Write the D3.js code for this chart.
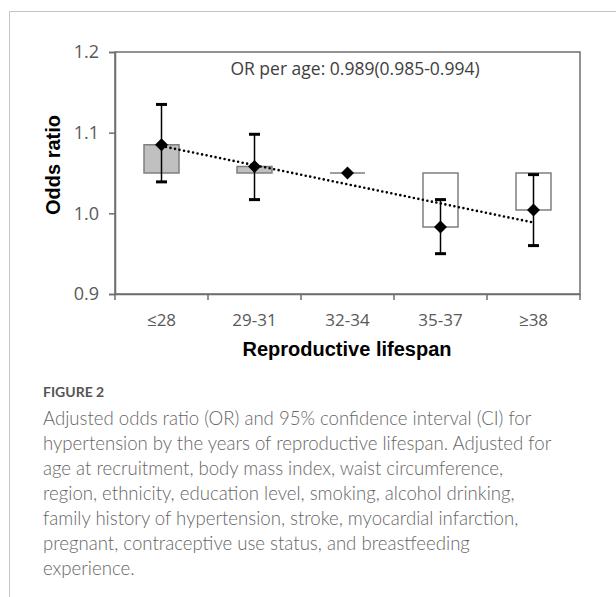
<!DOCTYPE html>
<html>
<head>
<meta charset="utf-8">
<script src="https://cdn.jsdelivr.net/npm/d3@7"></script>
<style>
  html, body { margin: 0; padding: 0; background: #fff; }
  svg { display: block; }
</style>
</head>
<body>
<div id="chart"></div>
<script>
// data
const categories = ["≤28", "29-31", "32-34", "35-37", "≥38"];
const oddsRatio = [1.085, 1.058, 1.05, 0.983, 1.004];
const ciLower = [1.039, 1.017, 1.05, 0.95, 0.96];
const ciUpper = [1.135, 1.098, 1.05, 1.017, 1.048];
const barBase = 1.05; // columns drawn from this crossing value
const yTicks = [0.9, 1.0, 1.1, 1.2];
const annotation = "OR per age: 0.989(0.985-0.994)";
const captionHead = "FIGURE 2";
const captionLines = [
  "Adjusted odds ratio (OR) and 95% confidence interval (CI) for",
  "hypertension by the years of reproductive lifespan. Adjusted for",
  "age at recruitment, body mass index, waist circumference,",
  "region, ethnicity, education level, smoking, alcohol drinking,",
  "family history of hypertension, stroke, myocardial infarction,",
  "pregnant, contraceptive use status, and breastfeeding",
  "experience."
];

const W = 616, H = 597;
const plot = { left: 115, right: 580, top: 52, bottom: 294 };
const tickFont = "'Open Sans', 'DejaVu Sans', sans-serif";

const svg = d3.select("#chart").append("svg")
  .attr("width", W).attr("height", H)
  .attr("viewBox", [0, 0, W, H]);

// figure frame (top + left rule)
svg.append("path")
  .attr("d", `M${W},11.5H9.5V${H}`)
  .attr("fill", "none")
  .attr("stroke", "#c4c4c4")
  .attr("stroke-width", 1);

const x = d3.scaleBand().domain(categories).range([plot.left, plot.right]);
const y = d3.scaleLinear().domain([0.9, 1.2]).range([plot.bottom, plot.top]);
const cx = d => x(d) + x.bandwidth() / 2;

// plot border
svg.append("rect")
  .attr("x", plot.left).attr("y", plot.top)
  .attr("width", plot.right - plot.left).attr("height", plot.bottom - plot.top)
  .attr("fill", "none")
  .attr("stroke", "#6e6e6e")
  .attr("stroke-width", 1.5);

// y axis
const yAxis = svg.append("g")
  .attr("transform", `translate(${plot.left},0)`)
  .call(d3.axisLeft(y).tickValues(yTicks).tickFormat(d3.format(".1f")).tickSize(6).tickPadding(10));
yAxis.select(".domain").attr("stroke", "#6e6e6e").attr("stroke-width", 1.5);
yAxis.selectAll(".tick line").attr("stroke", "#6e6e6e").attr("stroke-width", 1.5);
yAxis.selectAll(".tick text")
  .attr("fill", "#595959")
  .attr("font-family", tickFont)
  .attr("font-size", "18px");

// x axis: ticks on band boundaries
const xAxis = svg.append("g")
  .attr("transform", `translate(0,${plot.bottom})`)
  .call(d3.axisBottom(x).tickSize(0).tickPadding(20));
xAxis.select(".domain").attr("stroke", "#6e6e6e").attr("stroke-width", 1.5);
xAxis.selectAll(".tick text")
  .attr("fill", "#595959")
  .attr("font-family", tickFont)
  .attr("font-size", "17px");
const bounds = categories.map(c => x(c)).concat([plot.right]);
xAxis.selectAll("line.bound")
  .data(bounds)
  .join("line")
  .attr("class", "bound")
  .attr("x1", d => d).attr("x2", d => d)
  .attr("y1", 0).attr("y2", 6)
  .attr("stroke", "#6e6e6e")
  .attr("stroke-width", 1.5);

// columns from the 1.05 crossing (a path, so a zero-height column still shows its edge)
const barW = 35;
svg.append("g").selectAll("path")
  .data(categories)
  .join("path")
  .attr("d", (d, i) => {
    const x0 = cx(d) - barW / 2, x1 = cx(d) + barW / 2;
    const y0 = y(barBase), y1 = y(oddsRatio[i]);
    return `M${x0},${y0}H${x1}V${y1}H${x0}Z`;
  })
  .attr("fill", (d, i) => oddsRatio[i] > barBase ? "#c0c0c0" : "#ffffff")
  .attr("stroke", "#7f7f7f")
  .attr("stroke-width", 1.5);

// linear trend line through the ORs
const xs = categories.map((c, i) => i + 1);
const mx = d3.mean(xs), my = d3.mean(oddsRatio);
const slope = d3.sum(xs, (v, i) => (v - mx) * (oddsRatio[i] - my)) / d3.sum(xs, v => (v - mx) ** 2);
const fit = v => my + slope * (v - mx);
svg.append("line")
  .attr("x1", cx(categories[0])).attr("y1", y(fit(1)))
  .attr("x2", cx(categories[4])).attr("y2", y(fit(5)))
  .attr("stroke", "#000")
  .attr("stroke-width", 2.6)
  .attr("stroke-linecap", "round")
  .attr("stroke-dasharray", "0 4.6");

// error bars
const eb = svg.append("g");
categories.forEach((c, i) => {
  if (ciUpper[i] - ciLower[i] <= 0) return;
  eb.append("line")
    .attr("x1", cx(c)).attr("x2", cx(c))
    .attr("y1", y(ciLower[i])).attr("y2", y(ciUpper[i]))
    .attr("stroke", "#000").attr("stroke-width", 1.5);
  [ciLower[i], ciUpper[i]].forEach(v => {
    eb.append("line")
      .attr("x1", cx(c) - 5.5).attr("x2", cx(c) + 5.5)
      .attr("y1", y(v)).attr("y2", y(v))
      .attr("stroke", "#000").attr("stroke-width", 3);
  });
});

// diamonds
svg.append("g").selectAll("path")
  .data(categories)
  .join("path")
  .attr("transform", (d, i) => `translate(${cx(d)},${y(oddsRatio[i])})`)
  .attr("d", "M0,-6.5L6.5,0L0,6.5L-6.5,0Z")
  .attr("fill", "#000");

// annotation
svg.append("text")
  .attr("x", 355).attr("y", 75)
  .attr("text-anchor", "middle")
  .attr("fill", "#404040")
  .attr("font-family", tickFont)
  .attr("font-size", "17.5px")
  .text(annotation);

// axis titles
svg.append("text")
  .attr("transform", `translate(60,165) rotate(-90)`)
  .attr("text-anchor", "middle")
  .attr("font-family", "'Liberation Sans', Arial, sans-serif")
  .attr("font-weight", "bold")
  .attr("font-size", "20px")
  .attr("fill", "#000")
  .text("Odds ratio");

svg.append("text")
  .attr("x", 347).attr("y", 356)
  .attr("text-anchor", "middle")
  .attr("font-family", "'Liberation Sans', Arial, sans-serif")
  .attr("font-weight", "bold")
  .attr("font-size", "20px")
  .attr("fill", "#000")
  .text("Reproductive lifespan");

// caption
svg.append("text")
  .attr("x", 43).attr("y", 397)
  .attr("font-family", "Lato, 'Open Sans', sans-serif")
  .attr("font-weight", 700)
  .attr("font-size", "14px")
  .attr("fill", "#555")
  .text(captionHead);

svg.append("g").selectAll("text")
  .data(captionLines)
  .join("text")
  .attr("x", 43)
  .attr("y", (d, i) => 425 + i * 25)
  .attr("font-family", "Lato, 'Open Sans', sans-serif")
  .attr("font-weight", 300)
  .attr("font-size", "18.6px")
  .attr("fill", "#666")
  .text(d => d);
</script>
</body>
</html>
